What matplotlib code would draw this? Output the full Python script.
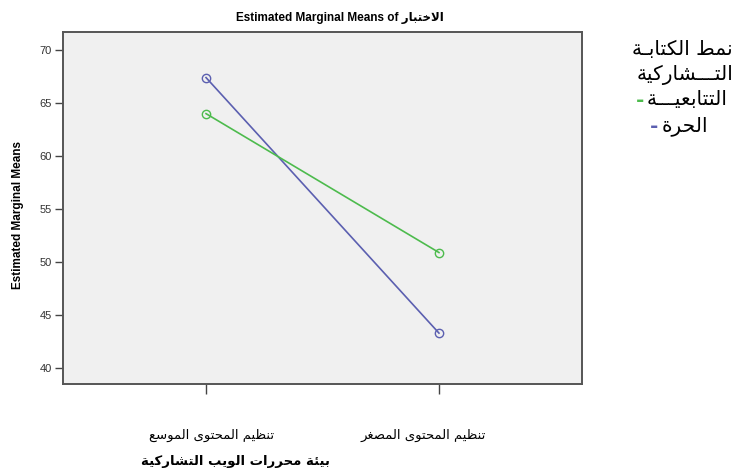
import matplotlib
matplotlib.use("Agg")
import matplotlib.pyplot as plt
import matplotlib.transforms as mtransforms

# ---------------- data ----------------
categories = ["تنظيم المحتوى الموسع", "تنظيم المحتوى المصغر"]
series_names = ["التتابعيـــة", "الحرة"]
seq_values = [64.0, 50.9]     # green
free_values = [67.4, 43.3]    # blue
y_ticks = [40, 45, 50, 55, 60, 65, 70]
title_latin = "Estimated Marginal Means of "
title_ar = "الاختبار"
y_label = "Estimated Marginal Means"
x_label = "بيئة محررات الويب التشاركية"
legend_title = ["نمط الكتابـة", "التـــشاركية"]

# ---------------- minimal Arabic shaping ----------------
FORMS = {
    'ء': ('\uFE80', None, None, None),
    'آ': ('\uFE81', '\uFE82', None, None),
    'أ': ('\uFE83', '\uFE84', None, None),
    'ؤ': ('\uFE85', '\uFE86', None, None),
    'إ': ('\uFE87', '\uFE88', None, None),
    'ئ': ('\uFE89', '\uFE8A', '\uFE8B', '\uFE8C'),
    'ا': ('\uFE8D', '\uFE8E', None, None),
    'ب': ('\uFE8F', '\uFE90', '\uFE91', '\uFE92'),
    'ة': ('\uFE93', '\uFE94', None, None),
    'ت': ('\uFE95', '\uFE96', '\uFE97', '\uFE98'),
    'ث': ('\uFE99', '\uFE9A', '\uFE9B', '\uFE9C'),
    'ج': ('\uFE9D', '\uFE9E', '\uFE9F', '\uFEA0'),
    'ح': ('\uFEA1', '\uFEA2', '\uFEA3', '\uFEA4'),
    'خ': ('\uFEA5', '\uFEA6', '\uFEA7', '\uFEA8'),
    'د': ('\uFEA9', '\uFEAA', None, None),
    'ذ': ('\uFEAB', '\uFEAC', None, None),
    'ر': ('\uFEAD', '\uFEAE', None, None),
    'ز': ('\uFEAF', '\uFEB0', None, None),
    'س': ('\uFEB1', '\uFEB2', '\uFEB3', '\uFEB4'),
    'ش': ('\uFEB5', '\uFEB6', '\uFEB7', '\uFEB8'),
    'ص': ('\uFEB9', '\uFEBA', '\uFEBB', '\uFEBC'),
    'ض': ('\uFEBD', '\uFEBE', '\uFEBF', '\uFEC0'),
    'ط': ('\uFEC1', '\uFEC2', '\uFEC3', '\uFEC4'),
    'ظ': ('\uFEC5', '\uFEC6', '\uFEC7', '\uFEC8'),
    'ع': ('\uFEC9', '\uFECA', '\uFECB', '\uFECC'),
    'غ': ('\uFECD', '\uFECE', '\uFECF', '\uFED0'),
    'ف': ('\uFED1', '\uFED2', '\uFED3', '\uFED4'),
    'ق': ('\uFED5', '\uFED6', '\uFED7', '\uFED8'),
    'ك': ('\uFED9', '\uFEDA', '\uFEDB', '\uFEDC'),
    'ل': ('\uFEDD', '\uFEDE', '\uFEDF', '\uFEE0'),
    'م': ('\uFEE1', '\uFEE2', '\uFEE3', '\uFEE4'),
    'ن': ('\uFEE5', '\uFEE6', '\uFEE7', '\uFEE8'),
    'ه': ('\uFEE9', '\uFEEA', '\uFEEB', '\uFEEC'),
    'و': ('\uFEED', '\uFEEE', None, None),
    'ى': ('\uFEEF', '\uFEF0', None, None),
    'ي': ('\uFEF1', '\uFEF2', '\uFEF3', '\uFEF4'),
    'ـ': ('\u0640', '\u0640', '\u0640', '\u0640'),
}
LAMALEF = {'ا': ('\uFEFB', '\uFEFC', None, None), 'أ': ('\uFEF7', '\uFEF8', None, None),
           'إ': ('\uFEF9', '\uFEFA', None, None), 'آ': ('\uFEF5', '\uFEF6', None, None)}


def shape(s):
    toks = []
    i = 0
    while i < len(s):
        c = s[i]
        if c == 'ل' and i + 1 < len(s) and s[i + 1] in LAMALEF:
            toks.append(LAMALEF[s[i + 1]])
            i += 2
            continue
        toks.append(FORMS.get(c, c))
        i += 1

    def dual(t):
        return isinstance(t, tuple) and t[2] is not None

    def joins(t):
        return isinstance(t, tuple) and t[1] is not None

    out = []
    for k, t in enumerate(toks):
        if not isinstance(t, tuple):
            out.append(t)
            continue
        prev = toks[k - 1] if k > 0 else None
        nxt = toks[k + 1] if k + 1 < len(toks) else None
        jp = prev is not None and dual(prev) and joins(t)
        jn = nxt is not None and dual(t) and joins(nxt)
        if jp and jn:
            out.append(t[3])
        elif jp:
            out.append(t[1])
        elif jn:
            out.append(t[2])
        else:
            out.append(t[0])
    return ''.join(out)[::-1]


# ---------------- figure ----------------
W, H = 733, 475
fig = plt.figure(figsize=(W / 100, H / 100), dpi=100)
fig.patch.set_facecolor("white")

L, R, T, B = 63, 582, 32, 384
ax = fig.add_axes([L / W, 1 - B / H, (R - L) / W, (B - T) / H])
ax.set_facecolor("#f0f0f0")

x = [0, 1]
blue = "#5b5fb0"
green = "#4dbb4d"
ax.plot(x, free_values, color=blue, lw=1.2, marker="o", ms=6, mfc="none", mec=blue, mew=1.0)
ax.plot(x, seq_values, color=green, lw=1.2, marker="o", ms=6, mfc="none", mec=green, mew=1.0)

ax.set_xlim(-0.614, 1.614)
ax.set_ylim(38.5, 71.7)
ax.set_yticks(y_ticks)
ax.set_yticklabels([str(v) for v in y_ticks], fontsize=8, color="#333333",
                   family=["Liberation Sans", "DejaVu Sans"])
ax.set_xticks(x)
ax.set_xticklabels([shape(c) for c in categories], fontsize=9.5, color="black",
                   family=["DejaVu Sans"])
ax.tick_params(axis="y", direction="out", length=6, width=1, color="#444444", pad=2)
ax.tick_params(axis="x", direction="out", length=7, width=1, color="#444444", pad=25)
for lab, dx in zip(ax.get_xticklabels(), [6, -16]):
    lab.set_transform(lab.get_transform() +
                      mtransforms.ScaledTranslation(dx / 100, 0, fig.dpi_scale_trans))
for sp in ax.spines.values():
    sp.set_color("#555555")
    sp.set_linewidth(1.4)

# title
fig.text(340 / W, 1 - 18 / H, title_latin + shape(title_ar), ha="center", va="center",
         fontsize=8.5, fontweight="bold", family=["Liberation Sans", "DejaVu Sans"])

# y label
fig.text(18 / W, 1 - 215 / H, y_label, rotation=90, ha="center", va="center",
         fontsize=8.5, fontweight="bold", family=["Liberation Sans Narrow", "Liberation Sans"])

# x label
fig.text(235 / W, 1 - 462 / H, shape(x_label), ha="center", va="center",
         fontsize=9.5, fontweight="bold", family=["DejaVu Sans"])

# legend (right side)
fs_leg = 14.5
fig.text(733 / W, 1 - 50 / H, shape(legend_title[0]), ha="right", va="center",
         fontsize=fs_leg, family=["DejaVu Sans"])
fig.text(733 / W, 1 - 75 / H, shape(legend_title[1]), ha="right", va="center",
         fontsize=fs_leg, family=["DejaVu Sans"])
t1 = fig.text(728 / W, 1 - 100 / H, shape(series_names[0]), ha="right", va="center",
              fontsize=fs_leg, family=["DejaVu Sans"])
t2 = fig.text(708 / W, 1 - 126 / H, shape(series_names[1]), ha="right", va="center",
              fontsize=fs_leg, family=["DejaVu Sans"])

fig.canvas.draw()
rend = fig.canvas.get_renderer()
for t, col, yy in [(t1, green, 100), (t2, blue, 126)]:
    bb = t.get_window_extent(renderer=rend)
    fig.text((bb.x0 - 3) / W, 1 - yy / H, "-", ha="right", va="center", fontsize=fs_leg,
             color=col, fontweight="bold", family=["DejaVu Sans"])

fig.savefig("out.png", dpi=100)
